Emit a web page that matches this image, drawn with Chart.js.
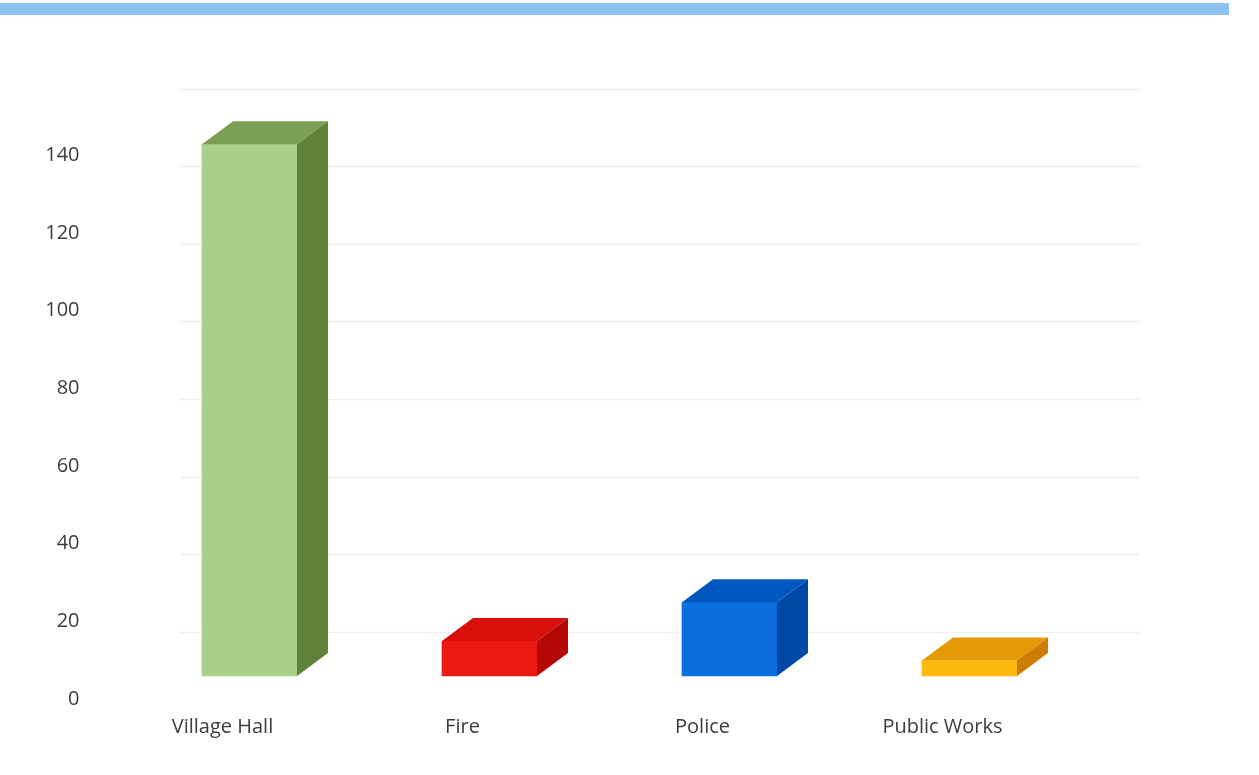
<!DOCTYPE html>
<html>
<head>
<meta charset="utf-8">
<title>Counts by Department</title>
<script src="https://cdn.jsdelivr.net/npm/chart.js@4.4.1/dist/chart.umd.min.js"></script>
<style>
  html, body { margin: 0; padding: 0; background: #ffffff; }
  #wrap { position: relative; width: 1259px; height: 775px; overflow: hidden; }
  #chart { position: absolute; left: 0; top: 0; }
  #band { position: absolute; left: 0; top: 3px; width: 1229px; height: 12px; background: #8ec2f3; }
</style>
</head>
<body>
<div id="wrap">
  <canvas id="chart" width="1259" height="775"></canvas>
  <div id="band"></div>
</div>
<script>
// Departments and their counts
const categories = ['Village Hall', 'Fire', 'Police', 'Public Works'];
const counts = [137, 9, 19, 4];
// Value axis tick labels
const yTicks = [0, 20, 40, 60, 80, 100, 120, 140];

// Face colours for each column: front, top, right side
const frontColors = ['#a9d08b', '#ec1a12', '#0a6fdc', '#fdba0c'];
const topColors   = ['#7b9f55', '#d80f0b', '#0058c0', '#e39a06'];
const sideColors  = ['#5f8238', '#b50806', '#0048a5', '#cf7c02'];

// Oblique depth used for the 3D column look
const DEPTH_X = 31;
const DEPTH_Y = -23;
// The back wall sits behind the column fronts
const WALL_X = 50;
const WALL_Y = -44;

const fontFamily = "'Open Sans', 'Liberation Sans', sans-serif";
const textColor = '#3d3d3d';

// Back-wall gridlines, drawn before the columns so the columns cover them
const wallGrid = {
  id: 'wallGrid',
  beforeDatasetsDraw(chart) {
    const { ctx, chartArea, scales } = chart;
    const y = scales.y;
    ctx.save();
    ctx.strokeStyle = '#f0f0f0';
    ctx.lineWidth = 1.5;
    yTicks.forEach(v => {
      const py = Math.round(y.getPixelForValue(v) + WALL_Y) + 0.5;
      ctx.beginPath();
      ctx.moveTo(chartArea.left + WALL_X, py);
      ctx.lineTo(chartArea.right + WALL_X, py);
      ctx.stroke();
    });
    ctx.restore();
  }
};

// Top and side faces of each column, built from the bar elements
const columnFaces = {
  id: 'columnFaces',
  afterDatasetsDraw(chart) {
    const { ctx } = chart;
    const meta = chart.getDatasetMeta(0);
    ctx.save();
    meta.data.forEach((bar, i) => {
      const p = bar.getProps(['x', 'y', 'base', 'width'], true);
      const left = p.x - p.width / 2;
      const right = p.x + p.width / 2;
      const top = p.y;
      const bottom = p.base;

      // top face
      ctx.fillStyle = topColors[i];
      ctx.beginPath();
      ctx.moveTo(left, top);
      ctx.lineTo(left + DEPTH_X, top + DEPTH_Y);
      ctx.lineTo(right + DEPTH_X, top + DEPTH_Y);
      ctx.lineTo(right, top);
      ctx.closePath();
      ctx.fill();

      // right side face
      ctx.fillStyle = sideColors[i];
      ctx.beginPath();
      ctx.moveTo(right, top);
      ctx.lineTo(right + DEPTH_X, top + DEPTH_Y);
      ctx.lineTo(right + DEPTH_X, bottom + DEPTH_Y);
      ctx.lineTo(right, bottom);
      ctx.closePath();
      ctx.fill();
    });
    ctx.restore();
  }
};

new Chart(document.getElementById('chart'), {
  type: 'bar',
  data: {
    labels: categories,
    datasets: [{
      data: counts,
      backgroundColor: frontColors,
      borderWidth: 0,
      barThickness: 95,
      clip: false
    }]
  },
  options: {
    responsive: false,
    animation: false,
    events: [],
    layout: { padding: { top: 132.5, right: 169.5, left: 0, bottom: 0 } },
    plugins: {
      legend: { display: false },
      tooltip: { enabled: false },
      title: { display: false }
    },
    scales: {
      x: {
        grid: { display: false, drawTicks: false },
        border: { display: false },
        ticks: {
          color: textColor,
          font: { family: fontFamily, size: 20 },
          padding: 39,
          labelOffset: -27,
          maxRotation: 0
        },
        afterFit(scale) { scale.height = 99; }
      },
      y: {
        min: 0,
        max: 140,
        afterBuildTicks(scale) { scale.ticks = yTicks.map(v => ({ value: v })); },
        grid: { display: false, drawTicks: false },
        border: { display: false },
        ticks: {
          color: textColor,
          font: { family: fontFamily, size: 20 },
          padding: 50,
          labelOffset: 23
        },
        afterFit(scale) { scale.width = 129.5; }
      }
    }
  },
  plugins: [wallGrid, columnFaces]
});
</script>
</body>
</html>
